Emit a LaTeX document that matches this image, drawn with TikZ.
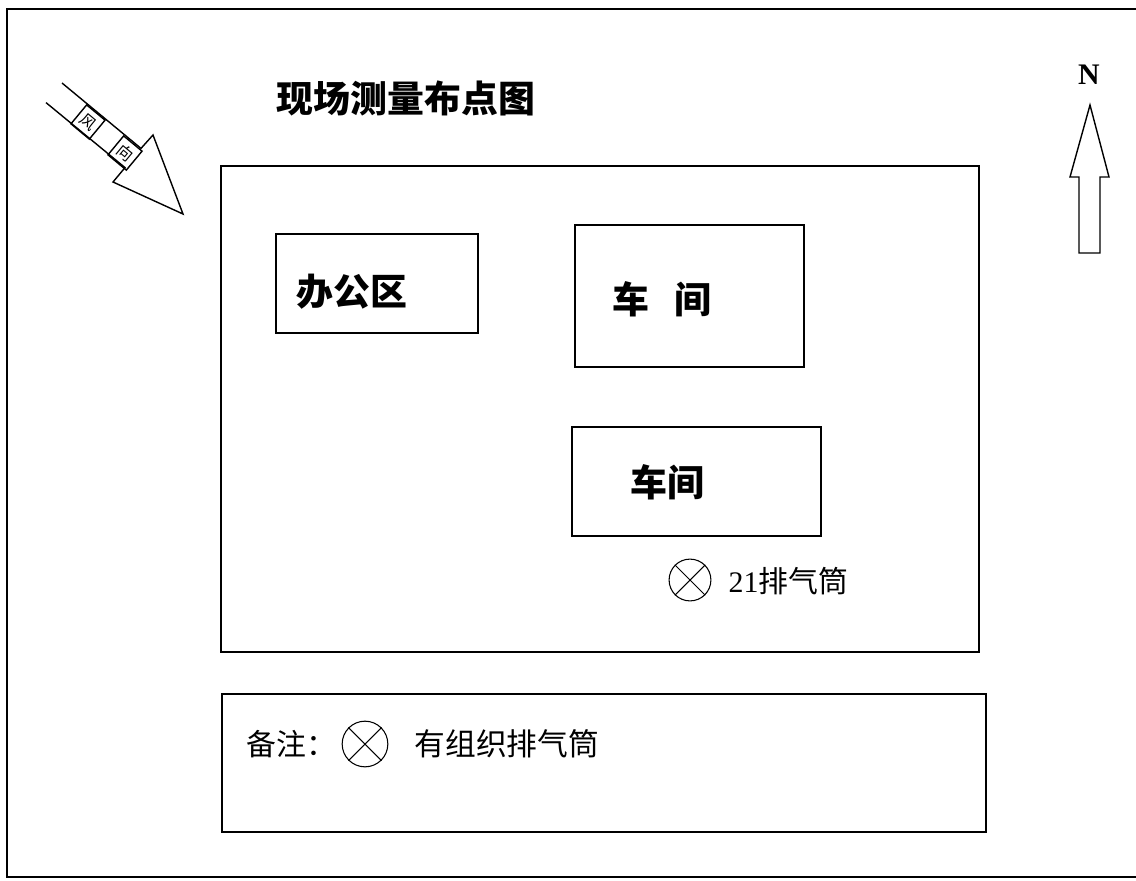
\documentclass[tikz,border=0pt]{standalone}
\usepackage{fontspec}
\newfontfamily\cjk{Noto Sans CJK SC}
\newfontfamily\tnr{Liberation Serif}
\newcommand{\fsz}[1]{\fontsize{#1}{#1}\selectfont}
\begin{document}
\begin{tikzpicture}[x=0.02cm, y=-0.02cm, line width=0.8pt,
  lbl/.style={inner sep=0pt, font=\cjk\bfseries\fsz{21pt}},
  vent/.style={circle, draw, inner sep=0pt, line width=0.6pt},
  cell/.style={draw, inner sep=0pt, rotate=-39.7, minimum width=13.6pt, minimum height=14pt, font=\cjk\fsz{9pt}}]
\useasboundingbox (0,0) rectangle (1136,880);
% frame of the sheet
\draw[line width=1.1pt] (1136,9) -- (7,9) -- (7,877) -- (1136,877);
\node[lbl] (title) at (406,98) {现场测量布点图};
% wind direction
\draw (62,83) -- (141,148.4) -- (153,135) -- (183,214) -- (113,182) -- (125,167.6) -- (46,102.6);
\node[cell] (w1) at (88,122) {风};
\node[cell] (w2) at (125,153) {向};
% north
\node[inner sep=0pt, font=\tnr\bfseries\fsz{17pt}] (n) at (1089,75) {N};
\draw (1090,105) -- (1109,177) -- (1100,177) -- (1100,253) -- (1079,253) -- (1079,177) -- (1070,177) -- cycle;
% site
\draw (221,166) rectangle (979,652);
\draw (276,234) rectangle (478,333);
\node[lbl] (office) at (352,292) {办公区};
\draw (575,225) rectangle (804,367);
\node[lbl] (ws1) at (662,299) {车\hspace{0.7em}间};
\draw (572,427) rectangle (821,536);
\node[lbl] (ws2) at (667,482) {车间};
\node[vent, minimum size=23.8pt] (v21) at (690,580) {};
\draw[line width=0.6pt] (v21.north west) -- (v21.south east) (v21.north east) -- (v21.south west);
\node[anchor=west, inner sep=0pt, font=\fsz{17pt}] (v21t) at (728,581) {{\tnr 21}{\cjk 排气筒}};
% legend
\draw (222,694) rectangle (986,832);
\node[anchor=west, inner sep=0pt, font=\cjk\fsz{17pt}] (note) at (246,744) {备注：};
\node[vent, minimum size=26pt] (vkey) at (365,744) {};
\draw[line width=0.6pt] (vkey.north west) -- (vkey.south east) (vkey.north east) -- (vkey.south west);
\node[anchor=west, inner sep=0pt, font=\cjk\fsz{17.5pt}] (keyt) at (414,744) {有组织排气筒};
\end{tikzpicture}
\end{document}
